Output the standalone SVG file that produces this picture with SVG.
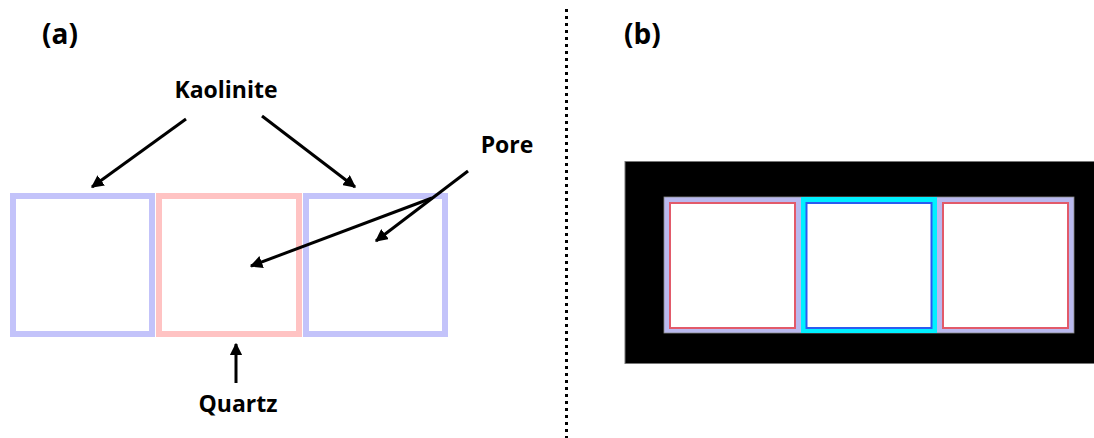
<svg xmlns="http://www.w3.org/2000/svg" width="1094" height="438" viewBox="0 0 1094 438">
<style>
.lbl{font-family:"Open Sans","Liberation Sans",sans-serif;font-weight:bold;fill:#000}
.kao{fill:none;stroke:#c3c3fa;stroke-width:6}
.qtz{fill:none;stroke:#ffc3c3;stroke-width:6}
.arr{stroke:#000;stroke-width:3;fill:none;marker-end:url(#ah)}
.red{fill:#fff;stroke:#e25a6a;stroke-width:2}
.blu{fill:#fff;stroke:#2a5cf0;stroke-width:2}
</style>
<defs>
<marker id="ah" viewBox="0 0 10 10" refX="9" refY="5" markerWidth="4.2" markerHeight="4.2" orient="auto" markerUnits="strokeWidth">
<path d="M0,0 L10,5 L0,10 z" fill="#000"/>
</marker>
</defs>
<rect width="1094" height="438" fill="#fff"/>
<g id="panel-a">
<text class="lbl" x="42" y="44" font-size="28">(a)</text>
<g id="kaolinite-left"><rect class="kao" x="13" y="196" width="139" height="138"/></g>
<g id="quartz-box"><rect class="qtz" x="159" y="196" width="140" height="138"/></g>
<g id="kaolinite-right"><rect class="kao" x="306" y="196" width="139" height="138"/></g>
<g id="label-kaolinite"><text class="lbl" x="226" y="98" font-size="23" text-anchor="middle">Kaolinite</text></g>
<g id="label-pore"><text class="lbl" x="507" y="153" font-size="23" text-anchor="middle">Pore</text></g>
<g id="label-quartz"><text class="lbl" x="238" y="412" font-size="23" text-anchor="middle">Quartz</text></g>
</g>
<g id="connectors">
<line class="arr" x1="186" y1="119" x2="92" y2="187"/>
<line class="arr" x1="262" y1="116" x2="355" y2="187"/>
<line class="arr" x1="468" y1="171" x2="376" y2="241"/>
<line class="arr" x1="432" y1="198" x2="251" y2="266"/>
<line class="arr" x1="236" y1="383" x2="236" y2="344"/>
</g>
<g id="divider">
<line x1="566.5" y1="9" x2="566.5" y2="438" stroke="#000" stroke-width="3" stroke-dasharray="3 4"/>
</g>
<g id="panel-b">
<text class="lbl" x="624" y="44" font-size="28">(b)</text>
<rect x="625" y="161.5" width="470" height="202" fill="#000" stroke="#777" stroke-width="1"/>
<rect x="664" y="197" width="410" height="136" fill="#b9b9ee" stroke="#888" stroke-width="0.8"/>
<rect x="801" y="197" width="136" height="136" fill="#00f0ff"/>
<g id="cell-left"><rect class="red" x="670" y="203" width="125" height="125"/></g>
<g id="cell-mid"><rect class="blu" x="806.5" y="203" width="125" height="125"/></g>
<g id="cell-right"><rect class="red" x="943" y="203" width="125" height="125"/></g>
</g>
</svg>
